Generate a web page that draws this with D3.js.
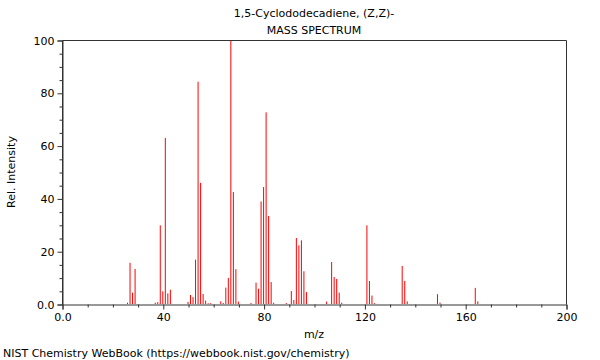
<!DOCTYPE html>
<html><head><meta charset="utf-8">
<script src="https://cdn.jsdelivr.net/npm/d3@7"></script>
<style>body{margin:0;background:#fff;} text{font-family:"DejaVu Sans",sans-serif;fill:#000;}</style>
</head><body><svg id="c" width="600" height="360"></svg>
<script>
const mz = [26,27,28,29,37,38,39,40,41,42,43,50,51,52,53,54,55,56,57,58,59,63,64,65,66,67,68,69,70,75,77,78,79,80,81,82,83,84,89,91,92,93,94,95,96,97,105,107,108,109,110,111,121,122,123,124,135,136,137,149,150,164,165];
const intensity = [0.5,15.6,4.3,13.3,0.5,0.7,29.8,4.8,62.9,4,5.4,0.8,3.4,2.6,16.8,84.2,45.9,3.8,1.3,0.3,0.3,1,0.4,6.2,9.9,100,42.4,13.2,0.9,0.4,8.1,5.8,38.8,44.3,72.6,33.3,8.3,0.5,0.4,4.9,1.5,25,22.2,24.1,12.4,4.5,0.9,15.9,10.2,9.5,4.3,0.5,29.8,8.7,3.2,0.3,14.4,8.7,1,3.7,0.5,6.1,1];
const xTicks = [0,40,80,120,160,200];
const xTickLabels = ["0.0","40","80","120","160","200"];
const yTicks = [0,20,40,60,80,100];
const yTickLabels = ["0.0","20","40","60","80","100"];
const title = "1,5-Cyclododecadiene, (Z,Z)-";
const subtitle = "MASS SPECTRUM";

const L=62,R=566,T=40,B=304;
const svg = d3.select("#c");
const x = d3.scaleLinear().domain([0,200]).range([L,R]);
const y = d3.scaleLinear().domain([0,100]).range([B,T]);

// bars
svg.append("g").selectAll("line").data(mz).join("line")
  .attr("x1",(d)=>x(d)).attr("x2",(d)=>x(d))
  .attr("y1",y(0)).attr("y2",(d,i)=>y(intensity[i]))
  .attr("stroke","#ff0000").attr("stroke-width",1);

// frame
svg.append("path").attr("d",`M${L+0.5},${B+0.5}V${T+0.5}H${R+0.5}V${B+0.5}`)
  .attr("fill","none").attr("stroke","#333").attr("stroke-width",1);

// x axis
const xa = svg.append("g").attr("transform",`translate(0.5,${B+0.5})`)
  .call(d3.axisBottom(x).tickValues(xTicks).tickSize(5).tickPadding(4)
    .tickFormat((d,i)=>xTickLabels[i]));
xa.selectAll(".tick text").attr("font-size",11).attr("font-family","DejaVu Sans");
xa.select(".domain").attr("stroke","#333");
xa.selectAll(".tick line").attr("stroke","#333");
const xm = svg.append("g").attr("transform",`translate(0.5,${B+0.5})`)
  .call(d3.axisBottom(x).tickValues(d3.range(0,201,10).filter(v=>v%40)).tickSize(3).tickFormat(""));
xm.select(".domain").remove(); xm.selectAll(".tick line").attr("stroke","#333");

// y axis
const ya = svg.append("g").attr("transform",`translate(${L+0.5},0.5)`)
  .call(d3.axisLeft(y).tickValues(yTicks).tickSize(5).tickPadding(3)
    .tickFormat((d,i)=>yTickLabels[i]));
ya.selectAll(".tick text").attr("font-size",11).attr("font-family","DejaVu Sans");
ya.select(".domain").attr("stroke","#333");
ya.selectAll(".tick line").attr("stroke","#333");
const ym = svg.append("g").attr("transform",`translate(${L+0.5},0.5)`)
  .call(d3.axisLeft(y).tickValues(d3.range(0,101,5).filter(v=>v%20)).tickSize(3).tickFormat(""));
ym.select(".domain").remove(); ym.selectAll(".tick line").attr("stroke","#333");

// texts
svg.append("text").attr("x",314).attr("y",17).attr("text-anchor","middle").attr("font-size",11).text(title);
svg.append("text").attr("x",314).attr("y",34).attr("text-anchor","middle").attr("font-size",11).text(subtitle);
svg.append("text").attr("x",314).attr("y",338).attr("text-anchor","middle").attr("font-size",11).text("m/z");
svg.append("text").attr("transform","translate(15,172) rotate(-90)").attr("text-anchor","middle").attr("font-size",11).text("Rel. Intensity");
svg.append("text").attr("x",3).attr("y",357).attr("font-size",11).text("NIST Chemistry WebBook (https://webbook.nist.gov/chemistry)");
</script></body></html>
